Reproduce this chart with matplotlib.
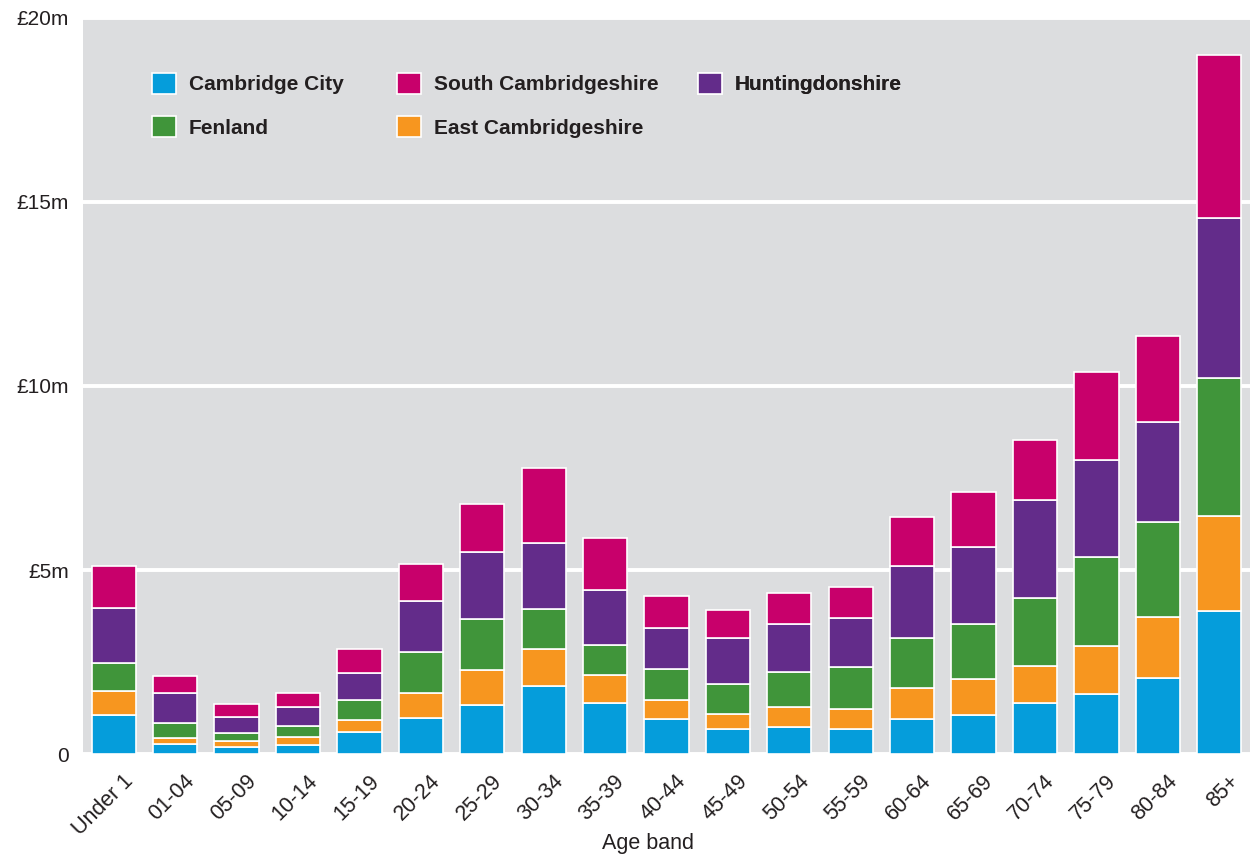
import matplotlib
matplotlib.use("Agg")
import matplotlib.pyplot as plt
import matplotlib.transforms as mtransforms
import numpy as np
from matplotlib.patches import Patch

plt.rcParams['font.family'] = ['Liberation Sans', 'DejaVu Sans']

age_bands = ["Under 1", "01-04", "05-09", "10-14", "15-19", "20-24", "25-29",
             "30-34", "35-39", "40-44", "45-49", "50-54", "55-59", "60-64",
             "65-69", "70-74", "75-79", "80-84", "85+"]

# Spend by district, £m
cambridge_city = [1.06, 0.27, 0.19, 0.24, 0.60, 0.98, 1.33, 1.85, 1.39, 0.95,
                  0.68, 0.73, 0.68, 0.95, 1.06, 1.39, 1.63, 2.07, 3.89]
east_cambs = [0.65, 0.17, 0.16, 0.22, 0.33, 0.68, 0.96, 1.01, 0.76, 0.52,
              0.41, 0.55, 0.54, 0.85, 0.98, 1.00, 1.31, 1.66, 2.59]
fenland = [0.77, 0.40, 0.22, 0.30, 0.54, 1.12, 1.38, 1.09, 0.82, 0.84,
           0.81, 0.95, 1.15, 1.36, 1.50, 1.85, 2.42, 2.58, 3.75]
huntingdonshire = [1.49, 0.82, 0.44, 0.52, 0.73, 1.38, 1.83, 1.79, 1.49, 1.12,
                   1.26, 1.31, 1.33, 1.96, 2.09, 2.67, 2.64, 2.70, 4.33]
south_cambs = [1.15, 0.46, 0.35, 0.38, 0.66, 1.01, 1.30, 2.02, 1.42, 0.87,
               0.76, 0.84, 0.84, 1.33, 1.50, 1.61, 2.37, 2.36, 4.43]

y_ticks = [0, 5, 10, 15, 20]
y_tick_labels = ["0", "£5m", "£10m", "£15m", "£20m"]

series = [
    ("Cambridge City", cambridge_city, "#059ddb"),
    ("East Cambridgeshire", east_cambs, "#f7961f"),
    ("Fenland", fenland, "#40953a"),
    ("Huntingdonshire", huntingdonshire, "#632c8a"),
    ("South Cambridgeshire", south_cambs, "#c8006b"),
]

text_color = "#231f20"
W, H = 1258, 858
ax_left, ax_right, ax_top, ax_bottom = 83, 1250, 18, 754

fig = plt.figure(figsize=(W / 100, H / 100), dpi=100)
ax = fig.add_axes([ax_left / W, (H - ax_bottom) / H,
                   (ax_right - ax_left) / W, (ax_bottom - ax_top) / H])
ax.set_facecolor("#dcdddf")

x = np.arange(len(age_bands))
bottom = np.zeros(len(age_bands))
handles = {}
for name, vals, color in series:
    vals = np.array(vals)
    ax.bar(x, vals, bottom=bottom, width=0.72, color=color,
           edgecolor="white", linewidth=1.2, zorder=3)
    bottom += vals
    handles[name] = Patch(facecolor=color, edgecolor="white", linewidth=1.2)

ax.set_xlim(-0.5, len(age_bands) - 0.5)
ax.set_ylim(0, 20)
ax.set_yticks(y_ticks)
ax.set_yticklabels(y_tick_labels, fontsize=15, color=text_color)
ax.yaxis.grid(True, color="white", linewidth=2.8, zorder=1)
ax.set_axisbelow(True)
ax.set_xticks(x)
ax.set_xticklabels(age_bands, rotation=45, ha="right", rotation_mode="anchor",
                   fontsize=15.5, color=text_color)
ax.tick_params(axis="y", length=0, pad=10)
ax.tick_params(axis="x", length=0, pad=12)
shift = mtransforms.ScaledTranslation(9 / 100, 0, fig.dpi_scale_trans)
for lbl in ax.get_xticklabels():
    lbl.set_transform(lbl.get_transform() + shift)
for s in ax.spines.values():
    s.set_visible(False)

ax.set_xlabel("Age band", fontsize=15.5, color=text_color)
ax.xaxis.set_label_coords((648 - ax_left) / (ax_right - ax_left), -0.108)


def to_axes(px, py):
    return ((px - ax_left) / (ax_right - ax_left),
            (ax_bottom - py) / (ax_bottom - ax_top))


# Legend laid out as three columns of keys
legend_cols = [
    (152, ["Cambridge City", "Fenland"]),
    (397, ["South Cambridgeshire", "East Cambridgeshire"]),
    (698, ["Huntingdonshire"]),
]
for col_x, names in legend_cols:
    leg = ax.legend([handles[n] for n in names], names,
                    loc="upper left", bbox_to_anchor=to_axes(col_x, 73),
                    frameon=False, prop={"weight": "bold", "size": 15},
                    handlelength=1.15, handleheight=1.15, handletextpad=0.62,
                    labelspacing=1.05, borderpad=0, borderaxespad=0,
                    labelcolor=text_color)
    ax.add_artist(leg)

fig.savefig("out.png", dpi=100)
